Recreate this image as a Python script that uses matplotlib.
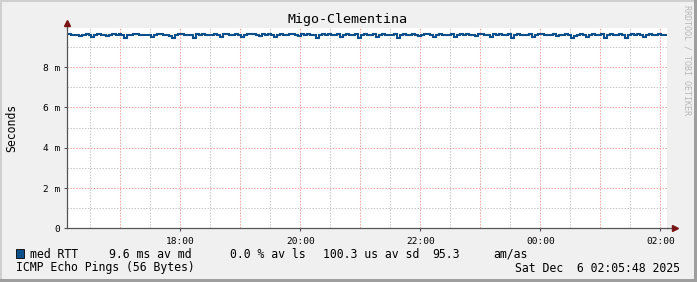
import numpy as np
import matplotlib
matplotlib.use('Agg')
import matplotlib.pyplot as plt
from matplotlib.patches import Rectangle

# ---- data (median RTT in ms, one sample every 3 minutes from 16:07) ----
rtt_part1 = [9.62, 9.61, 9.58, 9.60, 9.55, 9.61, 9.62, 9.59, 9.47, 9.61,
             9.62, 9.60, 9.57, 9.52, 9.61, 9.62, 9.59, 9.62, 9.61, 9.46,
             9.60, 9.61, 9.63, 9.62, 9.58, 9.61, 9.57, 9.61, 9.50, 9.60,
             9.62, 9.63, 9.59, 9.61, 9.55, 9.45, 9.61, 9.63, 9.62, 9.60,
             9.61, 9.59, 9.44, 9.62, 9.61, 9.64, 9.61, 9.57, 9.61, 9.62]
rtt_part2 = [9.60, 9.49, 9.62, 9.63, 9.61, 9.58, 9.62, 9.61, 9.48, 9.60,
             9.62, 9.64, 9.62, 9.59, 9.55, 9.62, 9.61, 9.63, 9.60, 9.47,
             9.61, 9.62, 9.60, 9.58, 9.62, 9.64, 9.61, 9.52, 9.62, 9.60,
             9.63, 9.61, 9.59, 9.45, 9.61, 9.62, 9.60, 9.62, 9.57, 9.61,
             9.63, 9.50, 9.60, 9.62, 9.61, 9.59, 9.62, 9.46, 9.61, 9.63]
rtt_part3 = [9.61, 9.59, 9.62, 9.48, 9.61, 9.62, 9.60, 9.58, 9.61, 9.63,
             9.45, 9.60, 9.62, 9.61, 9.59, 9.62, 9.60, 9.52, 9.61, 9.62,
             9.63, 9.60, 9.49, 9.61, 9.62, 9.58, 9.61, 9.60, 9.62, 9.47,
             9.60, 9.62, 9.61, 9.63, 9.59, 9.61, 9.55, 9.62, 9.64, 9.61,
             9.60, 9.50, 9.62, 9.61, 9.63, 9.60, 9.58, 9.62, 9.46, 9.61]
rtt_part4 = [9.62, 9.60, 9.61, 9.59, 9.62, 9.47, 9.61, 9.62, 9.63, 9.60,
             9.58, 9.61, 9.62, 9.53, 9.61, 9.60, 9.62, 9.61, 9.42, 9.56,
             9.60, 9.62, 9.61, 9.48, 9.60, 9.62, 9.59, 9.61, 9.63, 9.46,
             9.61, 9.62, 9.60, 9.58, 9.62, 9.61, 9.45, 9.60, 9.62, 9.61,
             9.63, 9.60, 9.49, 9.61, 9.62, 9.60, 9.61, 9.62, 9.61, 9.61]
rtt_ms = rtt_part1 + rtt_part2 + rtt_part3 + rtt_part4
start_hour = 16 + 7 / 60
step_min = 3

x_ticks = [18, 20, 22, 24, 26]
x_ticklabels = ["18:00", "20:00", "22:00", "00:00", "02:00"]
y_ticks = [0, 2, 4, 6, 8]
y_ticklabels = ["0", "2 m", "4 m", "6 m", "8 m"]

title = "Migo-Clementina"
legend_parts = [("med RTT", 30), ("9.6 ms av md", 109), ("0.0 % av ls", 230),
                ("100.3 us av sd", 323), ("95.3", 432), ("am/as", 493)]
footer_left = "ICMP Echo Pings (56 Bytes)"
footer_right = "Sat Dec  6 02:05:48 2025"

# ---- styling ----
W, H = 697, 282
MONO = "DejaVu Sans Mono"
plt.rcParams['font.family'] = MONO
BACK = "#f0f0f0"
LINE = "#0d4f8b"
MGRID = "#f4a3a3"
GRID = "#c8c8c8"
AXIS = "#555555"
ARROW = "#7a1414"


def fx(px):
    return px / W


def fy(py):
    return 1 - py / H


fig = plt.figure(figsize=(W / 100, H / 100), dpi=100, facecolor=BACK)

# frame shading (light top/left, dark bottom/right)
fig.add_artist(Rectangle((0, fy(2)), 1, 2 / H, transform=fig.transFigure, color="#cfcfcf", lw=0))
fig.add_artist(Rectangle((0, 0), 2 / W, 1, transform=fig.transFigure, color="#cfcfcf", lw=0))
fig.add_artist(Rectangle((0, 0), 1, 3 / H, transform=fig.transFigure, color="#9e9e9e", lw=0))
fig.add_artist(Rectangle((fx(W - 3), 0), 3 / W, 1, transform=fig.transFigure, color="#9e9e9e", lw=0))

left, right, top, bottom = 67, 667, 28, 228.3
ax = fig.add_axes([fx(left), fy(bottom), (right - left) / W, (bottom - top) / H])
ax.set_facecolor("white")

xmin = 26 - (660.5 - left) / 60
xmax = xmin + (right - left) / 60
ymax = (bottom - top) / 20.15
ax.set_xlim(xmin, xmax)
ax.set_ylim(0, ymax)

# grid: grey minor every 30 min / 1 ms, red major every hour / 2 ms
dash = (0, (1.4, 1.4))
for h in np.arange(np.ceil(xmin * 2) / 2, xmax, 0.5):
    is_major = abs(h - round(h)) < 1e-6
    ax.axvline(h, color=MGRID if is_major else GRID, lw=0.75, ls=dash, zorder=1)
for v in range(1, int(ymax) + 1):
    ax.axhline(v, color=MGRID if v % 2 == 0 else GRID, lw=0.75, ls=dash, zorder=1)

t = start_hour + np.arange(len(rtt_ms)) * step_min / 60
t = np.append(t, xmax)
vals = np.append(rtt_ms, rtt_ms[-1])
ax.plot(t, vals, color=LINE, lw=1.5, drawstyle="steps-post", zorder=3,
        solid_joinstyle="miter")

for s in ("top", "right"):
    ax.spines[s].set_visible(False)
for s in ("left", "bottom"):
    ax.spines[s].set_color(AXIS)
    ax.spines[s].set_linewidth(0.9)
    ax.spines[s].set_zorder(4)

ax.set_xticks(x_ticks)
ax.set_xticklabels(x_ticklabels)
ax.set_yticks(y_ticks)
ax.set_yticklabels(y_ticklabels)
ax.tick_params(axis="both", labelsize=6.8, length=2.5, width=0.8, direction="out")
ax.tick_params(axis="x", colors=AXIS, labelcolor="black", pad=4)
ax.tick_params(axis="y", colors=AXIS, labelcolor="black", pad=2.5)

# axis extensions and arrows
x_end = 1 + 8 / (right - left)
y_end = 1 + 5 / (bottom - top)
ax.plot([1.0, x_end], [0, 0], color=AXIS, lw=0.9, transform=ax.transAxes, clip_on=False)
ax.plot([0, 0], [1.0, y_end], color=AXIS, lw=0.9, transform=ax.transAxes, clip_on=False)
ax.plot([x_end], [0], marker=">", color=ARROW, ms=4, transform=ax.transAxes,
        clip_on=False, zorder=5)
ax.plot([0], [y_end], marker="^", color=ARROW, ms=4, transform=ax.transAxes,
        clip_on=False, zorder=5)

ax.set_ylabel("Seconds", fontsize=8.3, labelpad=18)

fig.text(fx(348), fy(19), title, ha="center", va="center", fontsize=9.6)
fig.text(fx(687), fy(5), "RRDTOOL / TOBI OETIKER", rotation=270, ha="center",
         va="top", fontsize=6, color="#b8b8b8")

# legend
fig.add_artist(Rectangle((fx(16), fy(258)), 8 / W, 9 / H, transform=fig.transFigure,
                         facecolor=LINE, edgecolor="black", lw=0.6))
for txt, px in legend_parts:
    fig.text(fx(px), fy(254), txt, ha="left", va="center", fontsize=8.3)
fig.text(fx(16), fy(268), footer_left, ha="left", va="center", fontsize=8.3)
fig.text(fx(680), fy(268), footer_right, ha="right", va="center", fontsize=8.3)

fig.savefig("out.png", dpi=100, facecolor=BACK)
